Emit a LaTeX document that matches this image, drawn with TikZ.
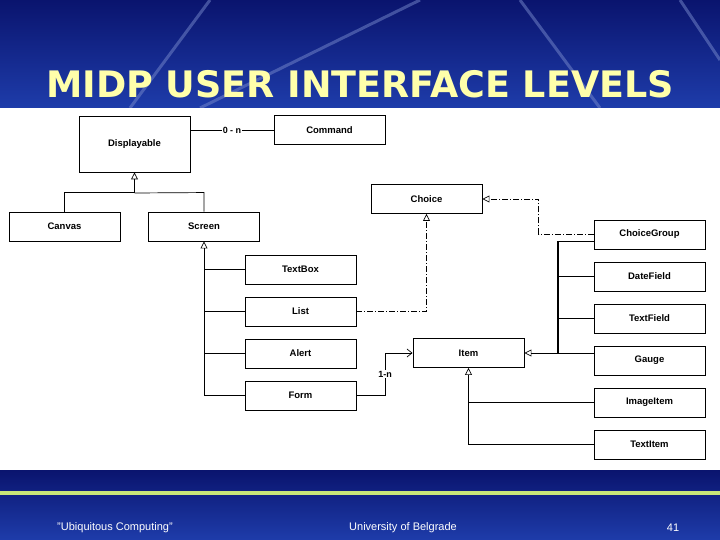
\documentclass[tikz,border=0pt]{standalone}
\usepackage{fontspec}
\setmainfont{Liberation Sans}
\newfontfamily\titlefont{DejaVu Sans}
\usetikzlibrary{arrows.meta}
\definecolor{dblue}{RGB}{10,20,110}
\definecolor{mblue}{RGB}{30,60,170}
\definecolor{lgreen}{RGB}{200,230,120}
\definecolor{tyellow}{RGB}{255,255,170}
\begin{document}
\begin{tikzpicture}[x=1pt,y=-1pt,
  box/.style={draw,line width=0.9pt,fill=white,minimum width=111pt,minimum height=29pt,inner sep=0pt,font=\fontsize{9.5}{10}\selectfont\bfseries},
  con/.style={line width=0.7pt},
  inh/.style={-{Triangle[open,length=7pt,width=7pt]}},
  dd/.style={dash pattern=on 6pt off 2pt on 1pt off 2pt}]
\useasboundingbox (0,0) rectangle (720,540);
\shade[top color=dblue,bottom color=mblue] (0,0) rectangle (720,108);
\draw[mblue!60!white,line width=3pt,opacity=0.5] (130,108) -- (210,0);
\draw[mblue!60!white,line width=3pt,opacity=0.5] (200,108) -- (420,0);
\draw[mblue!60!white,line width=3pt,opacity=0.5] (520,0) -- (600,108);
\draw[mblue!60!white,line width=3pt,opacity=0.5] (680,0) -- (720,60);
\fill[white] (0,108) rectangle (720,470);
\shade[top color=dblue,bottom color=mblue] (0,470) rectangle (720,540);
\fill[lgreen] (0,491) rectangle (720,495);
\node (title) [font=\titlefont\fontsize{36.5}{40}\selectfont\bfseries,text=tyellow] at (360,84) {MIDP USER INTERFACE LEVELS};
\node (f1) [text=white,font=\fontsize{11}{12}\selectfont] at (115,528) {"Ubiquitous Computing"};
\node (f2) [text=white,font=\fontsize{11}{12}\selectfont] at (403,528) {University of Belgrade};
\node (f3) [text=white,font=\fontsize{11}{12}\selectfont] at (673,528) {41};

\node[box,minimum height=56pt] (disp) at (134.5,144) {Displayable};
\node[box] (cmd) at (329.5,130) {Command};
\node[box] (canvas) at (64.5,226.5) {Canvas};
\node[box] (screen) at (204,226.5) {Screen};
\node[box] (choice) at (426.5,199) {Choice};
\node[box] (textbox) at (300.5,269.5) {TextBox};
\node[box] (list) at (300.5,311.5) {List};
\node[box] (alert) at (300.5,353.5) {Alert};
\node[box] (form) at (300.5,395.5) {Form};
\node[box] (item) at (468.5,353) {Item};
\node[box] (cg) at (649.5,234.5) {ChoiceGroup};
\node[box] (df) at (649.5,276.5) {DateField};
\node[box] (tf) at (649.5,318.5) {TextField};
\node[box] (gauge) at (649.5,360.5) {Gauge};
\node[box] (ii) at (649.5,402.5) {ImageItem};
\node[box] (ti) at (649.5,444.5) {TextItem};

\draw[con] (disp.east|-cmd) -- node[fill=white,inner sep=1pt,font=\fontsize{9}{10}\selectfont\bfseries]{0 - n} (cmd.west);
\draw[con,inh] (canvas.north) -- ++(0,-19) -| (disp.south);
\draw[con] (screen.north) -- ++(0,-19) -- (134.5,193);
\draw[con,inh] (form.west) -| (screen.south);
\draw[con] (204,269.5) -- (textbox.west);
\draw[con] (204,311.5) -- (list.west);
\draw[con] (204,353.5) -- (alert.west);
\draw[con,dd,inh] (list.east) -| (choice.south);
\draw[con,dd,inh] (cg.west) -- ++(-55,0) |- (choice.east);
\draw[con,inh] (558,353) -- (item.east);
\draw[line width=2pt] (558,241) -- (558,353);
\draw[con] (558,241) -- (cg.west|-558,241);
\draw[con] (558,276.5) -- (df.west);
\draw[con] (558,318.5) -- (tf.west);
\draw[con] (558,353) -- (gauge.west|-558,353);
\draw[con,inh] (ti.west) -| (item.south);
\draw[con] (468.5,402.5) -- (ii.west);
\draw[con,-{Straight Barb[length=5pt,width=8pt]}] (form.east) -- (385,395.5) -- (385,353) node[pos=0.5,fill=white,inner sep=1pt,font=\fontsize{9}{10}\selectfont\bfseries]{1-n} -- (item.west);
\end{tikzpicture}
\end{document}
